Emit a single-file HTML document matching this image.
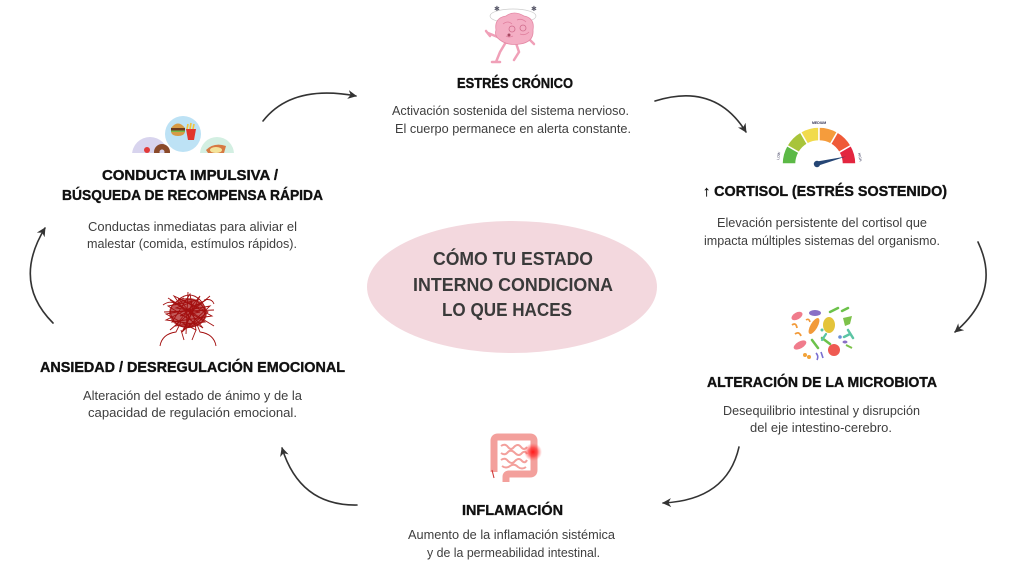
<!DOCTYPE html>
<html><head><meta charset="utf-8"><style>
html,body{margin:0;padding:0;background:#fff;}
svg{display:block;}
.t{font-family:"Liberation Sans",sans-serif;font-weight:bold;font-size:14.5px;fill:#111;stroke:#111;stroke-width:0.35;}
.d{font-family:"Liberation Sans",sans-serif;font-size:12.5px;fill:#3e3e3e;}
.c{font-family:"Liberation Sans",sans-serif;font-weight:bold;font-size:18px;fill:#3a3a3a;}
</style></head><body>
<svg width="1024" height="576" viewBox="0 0 1024 576" xmlns="http://www.w3.org/2000/svg">
<defs>
<marker id="ah" viewBox="0 0 10 10" refX="9" refY="5" markerWidth="9" markerHeight="9" markerUnits="userSpaceOnUse" orient="auto">
<path d="M0,0 L10,5 L0,10 L3,5 Z" fill="#333"/>
</marker>
<radialGradient id="glow"><stop offset="0" stop-color="#ff1a1a"/><stop offset="0.5" stop-color="#ff3030" stop-opacity="0.7"/><stop offset="1" stop-color="#ff6060" stop-opacity="0"/></radialGradient>
<clipPath id="foodclip"><rect x="120" y="100" width="130" height="53"/></clipPath>
</defs>

<!-- center ellipse -->
<ellipse cx="512" cy="287" rx="145" ry="66" fill="#f3d8de"/>
<text class="c" x="433" y="265" textLength="160" lengthAdjust="spacingAndGlyphs">CÓMO TU ESTADO</text>
<text class="c" x="413" y="291" textLength="200" lengthAdjust="spacingAndGlyphs">INTERNO CONDICIONA</text>
<text class="c" x="442" y="316" textLength="130" lengthAdjust="spacingAndGlyphs">LO QUE HACES</text>

<!-- arrows -->
<g fill="none" stroke="#333" stroke-width="1.6" stroke-linecap="round">
<path d="M263,121 Q292,84 356,96" marker-end="url(#ah)"/>
<path d="M655,101 Q715,82 746,132" marker-end="url(#ah)"/>
<path d="M978,242 Q1002,292 955,332" marker-end="url(#ah)"/>
<path d="M739,447 Q727,500 663,503" marker-end="url(#ah)"/>
<path d="M357,505 Q300,506 282,448" marker-end="url(#ah)"/>
<path d="M53,323 Q12,282 45,228" marker-end="url(#ah)"/>
</g>

<!-- brain -->
<g>
<ellipse cx="513" cy="16" rx="23" ry="7" fill="none" stroke="#ccc" stroke-width="0.7"/>
<text x="494" y="11" font-size="7" fill="#556" font-family="DejaVu Sans">✱</text>
<text x="531" y="11" font-size="7" fill="#556" font-family="DejaVu Sans">✱</text>
<path d="M500,38 L488,33 M486,31 L490,36" stroke="#f0a0b8" stroke-width="2.5" fill="none" stroke-linecap="round"/>
<path d="M506,42 L500,52 L496,62 M492,62 L500,62" stroke="#f0a0b8" stroke-width="2.5" fill="none" stroke-linecap="round"/>
<path d="M516,43 L519,52 L514,60" stroke="#f0a0b8" stroke-width="2.5" fill="none" stroke-linecap="round"/>
<path d="M528,38 L534,44" stroke="#f0a0b8" stroke-width="2.5" fill="none" stroke-linecap="round"/>
<path d="M496,30 Q494,18 506,16 Q514,10 524,16 Q535,18 533,30 Q534,42 520,44 Q508,46 500,40 Q494,36 496,30 Z" fill="#f4aec4" stroke="#e58aa6" stroke-width="0.8"/>
<path d="M503,24 Q508,20 512,24 M517,20 Q522,18 526,22 M520,34 Q525,36 529,32 M506,36 Q509,38 513,36" stroke="#e07f9e" stroke-width="0.8" fill="none"/>
<circle cx="512" cy="29" r="3" fill="none" stroke="#d06c8c" stroke-width="0.8"/>
<circle cx="523" cy="28" r="3" fill="none" stroke="#d06c8c" stroke-width="0.8"/>
<circle cx="509" cy="35" r="1.5" fill="#a84862"/>
</g>

<!-- gauge -->
<g stroke="#fff" stroke-width="1.5">
<path d="M782,164 A37,37 0 0 1 786.96,145.5 L799.08,152.5 A23,23 0 0 0 796,164 Z" fill="#5cb946"/>
<path d="M786.96,145.5 A37,37 0 0 1 800.5,131.96 L807.5,144.08 A23,23 0 0 0 799.08,152.5 Z" fill="#a8c43a"/>
<path d="M800.5,131.96 A37,37 0 0 1 819,127 L819,141 A23,23 0 0 0 807.5,144.08 Z" fill="#f1db4c"/>
<path d="M819,127 A37,37 0 0 1 837.5,131.96 L830.5,144.08 A23,23 0 0 0 819,141 Z" fill="#f59c3c"/>
<path d="M837.5,131.96 A37,37 0 0 1 851.04,145.5 L838.92,152.5 A23,23 0 0 0 830.5,144.08 Z" fill="#ef5a38"/>
<path d="M851.04,145.5 A37,37 0 0 1 856,164 L842,164 A23,23 0 0 0 838.92,152.5 Z" fill="#e3263f"/>
</g>
<path d="M817,161.5 L846,156.5 L817,166 Z" fill="#264675"/>
<circle cx="817" cy="164" r="3.2" fill="#264675"/>
<text x="812" y="124" font-size="3.5" fill="#335" font-family="Liberation Sans" font-weight="bold">MEDIUM</text>
<text x="779" y="160" font-size="3.5" fill="#335" font-family="Liberation Sans" transform="rotate(-80 779 160)">LOW</text>
<text x="858" y="153" font-size="3.5" fill="#335" font-family="Liberation Sans" transform="rotate(80 858 153)">HIGH</text>

<!-- food circles -->
<g clip-path="url(#foodclip)">
<circle cx="150" cy="155" r="18" fill="#d8d4ee"/>
<circle cx="217" cy="154" r="17" fill="#d3efe2"/>
<circle cx="183" cy="134" r="18" fill="#bde2f5"/>
<circle cx="162" cy="152" r="8" fill="#8a4a2a"/>
<circle cx="162" cy="152" r="2.5" fill="#d8d4ee"/>
<circle cx="147" cy="150" r="3" fill="#e23a3a"/>
<path d="M171,128 Q178,119 185,128 Z" fill="#d79a45"/>
<rect x="171" y="128" width="14" height="2.5" fill="#6b3a1e"/>
<rect x="171" y="130.5" width="14" height="1.5" fill="#79b84a"/>
<path d="M171,132 L185,132 Q184,136 178,136 Q172,136 171,132 Z" fill="#d79a45"/>
<path d="M186,129 L196,129 L194,140 L188,140 Z" fill="#e1352c"/>
<path d="M187,129 L188,124 M190,129 L191,123 M193,129 L194,124" stroke="#f2c33b" stroke-width="1.6"/>
<path d="M206,150 Q214,142 226,146 L224,153 L208,153 Z" fill="#d77a42"/>
<ellipse cx="216" cy="150" rx="6" ry="3" fill="#f3e39a"/>
</g>

<!-- microbiota -->
<g>
<ellipse cx="797" cy="316" rx="6" ry="3.5" fill="#f07c8c" transform="rotate(-30 797 316)"/>
<ellipse cx="815" cy="313" rx="6" ry="3" fill="#8a6fc6"/>
<path d="M830,312 L838,308 M842,311 L848,308" stroke="#6cc24a" stroke-width="2.5" stroke-linecap="round"/>
<ellipse cx="814" cy="326" rx="3.5" ry="9" fill="#f29a3a" transform="rotate(30 814 326)"/>
<ellipse cx="829" cy="325" rx="6" ry="8" fill="#e4c43a"/>
<path d="M843,318 L852,316 L850,324 L845,326 Z" fill="#7dc24a"/>
<path d="M792,325 Q796,322 797,328 M795,334 Q799,331 801,336" stroke="#f29a3a" stroke-width="1.8" fill="none"/>
<path d="M848,330 L853,338 M850,334 L844,337" stroke="#5bc4a4" stroke-width="2.5" stroke-linecap="round"/>
<ellipse cx="800" cy="345" rx="7" ry="3.5" fill="#f07c8c" transform="rotate(-30 800 345)"/>
<path d="M812,340 L818,348 M822,338 L830,344" stroke="#6cc24a" stroke-width="2.5" stroke-linecap="round"/>
<circle cx="834" cy="350" r="6" fill="#ef5a52"/>
<circle cx="840" cy="337" r="1.8" fill="#6a8fd8"/>
<path d="M846,345 L852,348" stroke="#7dc24a" stroke-width="2"/>
<circle cx="805" cy="355" r="2" fill="#f2a33a"/>
<circle cx="809" cy="357" r="2" fill="#f2a33a"/>
<path d="M816,353 Q819,356 817,360 M821,352 L823,358" stroke="#7a6fd0" stroke-width="1.6" fill="none"/>
<circle cx="822" cy="330" r="1.5" fill="#5bc4a4"/>
<path d="M806,320 Q809,318 810,322" stroke="#f29a3a" stroke-width="1.6" fill="none"/>
<path d="M822,340 L826,334" stroke="#5bc4a4" stroke-width="2.2" stroke-linecap="round"/>
<ellipse cx="845" cy="342" rx="2.5" ry="1.5" fill="#8a6fc6"/>
</g>

<!-- intestine -->
<g>
<path d="M494,472 L494,441 Q494,437 498,437 L530,437 Q534,437 534,441 L534,470 Q534,474 530,474 L509,474 Q506,474 506,477 L506,482" fill="none" stroke="#f3a09c" stroke-width="7" stroke-linejoin="round"/>
<path d="M501,446 Q505,443 508,447 Q511,451 514,447 Q518,443 521,447 Q524,451 527,447 M501,453 Q505,456 508,452 Q511,449 515,453 Q519,457 522,453 Q525,450 527,454 M501,460 Q505,457 508,461 Q512,465 515,461 Q519,457 522,461 Q525,464 527,460 M502,466 Q506,469 510,466 Q514,463 518,467 Q522,470 526,467" fill="none" stroke="#f3a09c" stroke-width="2"/>
<circle cx="533" cy="452" r="9" fill="url(#glow)"/>
<path d="M492,470 L494,478" stroke="#c33" stroke-width="1"/>
</g>

<!-- anxiety -->
<g fill="none" stroke="#a30f0f" stroke-width="0.9">
<ellipse cx="188" cy="313" rx="19" ry="15" fill="#a81414" fill-opacity="0.7" stroke="none"/>
<path d="M170,300 L205,322 L175,326 L200,296 L182,332 L210,306 L166,314 L196,330 L190,294 L172,322 L212,316 L178,298 L203,328 L168,306 L198,300 L184,330 L208,312 L174,296 L194,324 L166,320 L206,300 L180,316 L200,312 L176,308 L192,302 L186,326"/>
<path d="M178,300 Q190,290 200,300 Q212,312 196,324 Q180,332 172,318 Q166,304 184,298 M175,305 Q195,292 205,310 Q208,325 186,328"/>
<path d="M168,298 L214,326 M170,330 L210,296 M164,312 L214,310 M188,292 L186,334"/>
<path d="M163,305 Q170,300 176,304 M204,300 Q212,298 214,304"/>
<path d="M160,346 Q162,334 176,332 L181,322 M216,346 Q214,334 200,332 L196,322 M181,330 L184,340 M196,330 L192,340"/>
</g>

<!-- texts -->
<text class="t" x="457" y="88" textLength="116" lengthAdjust="spacingAndGlyphs">ESTRÉS CRÓNICO</text>
<text class="d" x="392" y="115" textLength="237" lengthAdjust="spacingAndGlyphs">Activación sostenida del sistema nervioso.</text>
<text class="d" x="395" y="133" textLength="236" lengthAdjust="spacingAndGlyphs">El cuerpo permanece en alerta constante.</text>

<text class="t" x="703" y="196" textLength="244" lengthAdjust="spacingAndGlyphs">↑ CORTISOL (ESTRÉS SOSTENIDO)</text>
<text class="d" x="717" y="227" textLength="210" lengthAdjust="spacingAndGlyphs">Elevación persistente del cortisol que</text>
<text class="d" x="704" y="245" textLength="236" lengthAdjust="spacingAndGlyphs">impacta múltiples sistemas del organismo.</text>

<text class="t" x="707" y="387" textLength="230" lengthAdjust="spacingAndGlyphs">ALTERACIÓN DE LA MICROBIOTA</text>
<text class="d" x="723" y="415" textLength="197" lengthAdjust="spacingAndGlyphs">Desequilibrio intestinal y disrupción</text>
<text class="d" x="750" y="432" textLength="142" lengthAdjust="spacingAndGlyphs">del eje intestino-cerebro.</text>

<text class="t" x="462" y="515" textLength="101" lengthAdjust="spacingAndGlyphs">INFLAMACIÓN</text>
<text class="d" x="408" y="539" textLength="207" lengthAdjust="spacingAndGlyphs">Aumento de la inflamación sistémica</text>
<text class="d" x="427" y="557" textLength="173" lengthAdjust="spacingAndGlyphs">y de la permeabilidad intestinal.</text>

<text class="t" x="40" y="372" textLength="305" lengthAdjust="spacingAndGlyphs">ANSIEDAD / DESREGULACIÓN EMOCIONAL</text>
<text class="d" x="83" y="400" textLength="219" lengthAdjust="spacingAndGlyphs">Alteración del estado de ánimo y de la</text>
<text class="d" x="88" y="417" textLength="209" lengthAdjust="spacingAndGlyphs">capacidad de regulación emocional.</text>

<text class="t" x="102" y="180" textLength="176" lengthAdjust="spacingAndGlyphs">CONDUCTA IMPULSIVA /</text>
<text class="t" x="62" y="200" textLength="261" lengthAdjust="spacingAndGlyphs">BÚSQUEDA DE RECOMPENSA RÁPIDA</text>
<text class="d" x="88" y="231" textLength="209" lengthAdjust="spacingAndGlyphs">Conductas inmediatas para aliviar el</text>
<text class="d" x="87" y="248" textLength="210" lengthAdjust="spacingAndGlyphs">malestar (comida, estímulos rápidos).</text>
</svg>
</body></html>
